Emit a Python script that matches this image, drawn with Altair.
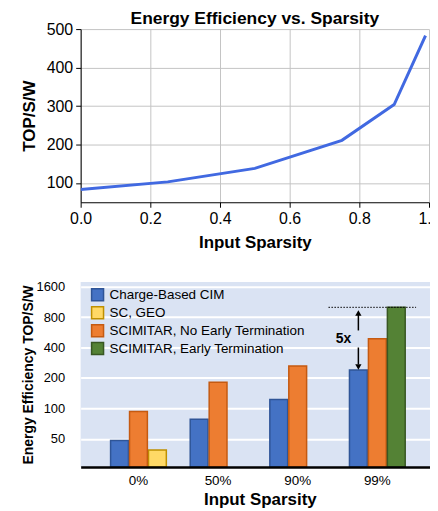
import altair as alt
import pandas as pd

# ---------------- data ----------------
# top panel: energy efficiency vs input sparsity
sparsity = [0.0, 0.25, 0.5, 0.75, 0.9, 0.99]
tops_per_watt = [83, 103, 138, 211, 304, 483]

# bottom panel: grouped bars (log scale)
categories = ["0%", "50%", "90%", "99%"]
series_names = ["Charge-Based CIM", "SC, GEO",
                "SCIMITAR, No Early Termination", "SCIMITAR, Early Termination"]
charge_cim = [48, 78, 122, 240]
sc_geo = [38.6, None, None, None]
scimitar_no_et = [93, 181, 262, 487]
scimitar_et = [None, None, None, 1000]
series_slot = [0, 2, 1, 2]          # order of each series inside a group
fills = ["#4472c4", "#ffd966", "#ed7d31", "#548235"]
strokes = ["#2f5597", "#bf9000", "#c55a11", "#385723"]

# annotation values (5x arrows at 99%)
arrow_up = [590, 850]
arrow_down = [400, 272]
arrow_head_up = 880
arrow_head_down = 256
label_5x_value = 480
dotted_value = 1000

FONT = "Liberation Sans"

# ---------------- top chart ----------------
line_df = pd.DataFrame({"sparsity": sparsity, "tops": tops_per_watt})
top = alt.Chart(line_df).mark_line(color="#4169e1", strokeWidth=3, clip=True).encode(
    x=alt.X("sparsity:Q",
            scale=alt.Scale(domain=[0, 1], nice=False, zero=False),
            axis=alt.Axis(values=[0, 0.2, 0.4, 0.6, 0.8, 1.0], format=".1f",
                          title="Input Sparsity", labelFontSize=16, titleFontSize=17,
                          titleFontWeight="bold", labelColor="black", titleColor="black",
                          domainColor="black", tickColor="black", tickSize=5,
                          gridColor="#c4c4c4", labelPadding=3, titlePadding=8,
                          labelFlush=False)),
    y=alt.Y("tops:Q",
            scale=alt.Scale(domain=[50, 500], nice=False, zero=False),
            axis=alt.Axis(values=[100, 200, 300, 400, 500], title="TOP/S/W",
                          labelFontSize=16, titleFontSize=17, titleFontWeight="bold",
                          labelColor="black", titleColor="black", domainColor="black",
                          tickColor="black", tickSize=5, gridColor="#c4c4c4",
                          labelPadding=3, titlePadding=8)),
).properties(
    width=350, height=174,
    title=alt.TitleParams("Energy Efficiency vs. Sparsity", fontSize=17.5,
                          fontWeight="bold", anchor="middle", color="black", offset=-6),
    view=alt.ViewBackground(stroke=None),
)

# ---------------- bottom chart ----------------
rows = []
for s_name, vals, slot in zip(series_names,
                              [charge_cim, sc_geo, scimitar_no_et, scimitar_et],
                              series_slot):
    for cat, v in zip(categories, vals):
        if v is not None:
            rows.append({"category": cat, "series": s_name, "slot": slot, "value": v})
bar_df = pd.DataFrame(rows)

y_min, y_max = 26.2, 1786
x_enc = alt.X("category:N", sort=categories,
              scale=alt.Scale(domain=categories, paddingInner=0.3, paddingOuter=0.4, align=0.47),
              axis=alt.Axis(title="Input Sparsity", labelAngle=0, labelFontSize=13.5,
                            titleFontSize=17, titleFontWeight="bold", labelColor="black",
                            titleColor="black", domainColor="black", domainWidth=2.5,
                            ticks=False, labelPadding=7, titlePadding=4, zindex=1))
xoff_enc = alt.XOffset("slot:O", scale=alt.Scale(domain=[0, 1, 2], paddingInner=0.06, paddingOuter=0))
y_scale = alt.Scale(type="log", base=2, domain=[y_min, y_max], nice=False)

legend = alt.Legend(title=None, orient="none", legendX=10, legendY=6, symbolType="square",
                    symbolSize=144, symbolStrokeWidth=1.5, labelFontSize=13.5, labelFont=FONT,
                    labelColor="black", rowPadding=0, labelOffset=5, padding=0, labelLimit=300)

bars = alt.Chart(bar_df).mark_bar(strokeWidth=1.5).encode(
    x=x_enc,
    xOffset=xoff_enc,
    y=alt.Y("value:Q", scale=y_scale,
            axis=alt.Axis(values=[50, 100, 200, 400, 800, 1600], format="d",
                          title="Energy Efficiency TOP/S/W",
                          labelFontSize=13, titleFontSize=14, titleFontWeight="bold",
                          labelColor="black", titleColor="black", domain=False, ticks=False,
                          gridColor="white", gridWidth=2, labelPadding=16, titlePadding=0)),
    y2=alt.datum(y_min),
    fill=alt.Fill("series:N", scale=alt.Scale(domain=series_names, range=fills), legend=legend),
    stroke=alt.Stroke("series:N", scale=alt.Scale(domain=series_names, range=strokes), legend=legend),
)

ann_df = pd.DataFrame({
    "category": ["99%"] * 2, "slot": [0, 0],
    "y1": [arrow_up[0], arrow_down[0]], "y2": [arrow_up[1], arrow_down[1]],
    "head": [arrow_head_up, arrow_head_down], "shape": ["triangle-up", "triangle-down"],
})
arrows = alt.Chart(ann_df).mark_rule(color="black", strokeWidth=1.5).encode(
    x="category:N", xOffset="slot:O", y=alt.Y("y1:Q", scale=y_scale), y2="y2:Q")
heads = alt.Chart(ann_df).mark_point(filled=True, color="black", size=40, opacity=1).encode(
    x="category:N", xOffset="slot:O", y=alt.Y("head:Q", scale=y_scale),
    shape=alt.Shape("shape:N", scale=None))
txt_df = pd.DataFrame({"category": ["99%"], "slot": [0], "v": [label_5x_value], "t": ["5x"]})
label5 = alt.Chart(txt_df).mark_text(fontWeight="bold", fontSize=14, dx=-15, color="black",
                                     font=FONT).encode(
    x="category:N", xOffset="slot:O", y=alt.Y("v:Q", scale=y_scale), text="t:N")
dot_df = pd.DataFrame({"v": [dotted_value]})
dotted = alt.Chart(dot_df).mark_rule(color="black", strokeWidth=1, strokeDash=[1.5, 1.5]).encode(
    y=alt.Y("v:Q", scale=y_scale), x=alt.value(249), x2=alt.value(337))

bottom = alt.layer(bars, dotted, arrows, heads, label5).properties(
    width=360, height=186,
    view=alt.ViewBackground(fill="#dae3f3", stroke=None),
)

chart = alt.vconcat(top, bottom, spacing=30).properties(
    padding={"left": 12, "top": 0, "right": -11, "bottom": 0}
).configure(font=FONT).resolve_scale(x="independent", y="independent").resolve_legend(
    fill="independent", stroke="independent")

chart.save("out.html", embed_options={"renderer": "svg", "actions": False})
